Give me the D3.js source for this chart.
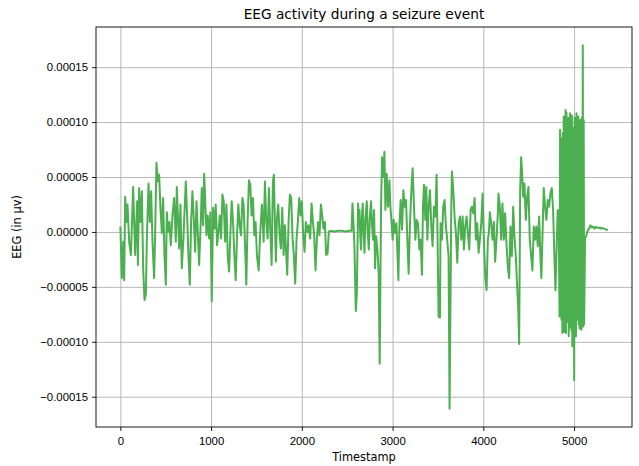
<!DOCTYPE html>
<html>
<head>
    <meta charset="utf-8">
    <title>EEG activity during a seizure event</title>
    <script type="text/javascript" src="https://d3js.org/d3.v7.min.js"></script>

    <style>
        body {
            margin: 0;
            background: #fff;
        }

        svg {
            display: block;
            font-family: "DejaVu Sans", sans-serif;
        }

        .grid line {
            stroke: #b0b0b0;
            stroke-width: 0.9px;
        }

        .grid path {
            display: none;
        }

        .axis path {
            display: none;
        }

        .axis line {
            stroke: #000;
            stroke-width: 0.9px;
        }

        .axis text {
            font-size: 11.4px;
            fill: #000;
        }

        .eeg {
            fill: none;
            stroke: #4caf50;
            stroke-width: 2px;
            stroke-linejoin: round;
        }
    </style>
</head>

<body>

<script type="text/javascript">
    var SCALE = 1e-5; // values below are in units of 1e-5

    var timestamps = [
        0, 16, 31, 42, 53, 68, 79, 97, 116, 141,
        152, 163, 185, 193, 207, 222, 237, 251, 266, 281,
        292, 310, 325, 339, 354, 372, 383, 398, 413, 427,
        442, 457, 471, 486, 501, 512, 526, 541, 556, 574,
        592, 611, 622, 637, 648, 662, 677, 695, 721, 736,
        750, 765, 780, 794, 809, 824, 839, 853, 868, 886,
        897, 912, 923, 934, 949, 963, 978, 993, 1007, 1022,
        1037, 1051, 1066, 1081, 1095, 1110, 1125, 1139, 1154, 1169,
        1183, 1198, 1213, 1227, 1242, 1256, 1271, 1286, 1300, 1315,
        1330, 1345,
        1358, 1373, 1388, 1402, 1417, 1432, 1446, 1461, 1476, 1490,
        1505, 1524, 1542, 1560, 1579, 1593, 1608, 1623, 1637, 1652,
        1667, 1681, 1692, 1703, 1714, 1725, 1740, 1755, 1769, 1784,
        1799, 1813, 1828, 1839, 1854, 1868, 1883, 1898, 1912, 1927,
        1942, 1956, 1971, 1986, 2000, 2015, 2030, 2044, 2059, 2074,
        2092, 2107, 2122, 2136, 2151, 2166, 2180, 2195, 2210, 2224,
        2239, 2254, 2268, 2283, 2298,
        2320, 2360, 2400, 2440, 2480, 2520, 2548,
        2558, 2569, 2580, 2595, 2606, 2620, 2628, 2635, 2644, 2653,
        2662, 2671, 2680, 2690, 2700, 2708, 2716, 2726, 2738, 2750,
        2763, 2774, 2785, 2796, 2807, 2818, 2833, 2847, 2858, 2873,
        2884, 2899, 2910, 2921, 2935, 2950, 2965, 2976, 2987,
        3001, 3012, 3027, 3042, 3053, 3064, 3075, 3089, 3104, 3119,
        3133, 3148, 3163, 3177, 3192, 3207, 3221, 3236, 3251, 3265,
        3280, 3295, 3309, 3324, 3335, 3346, 3361, 3372, 3383, 3397,
        3412, 3427, 3441, 3456, 3471, 3485, 3496, 3507, 3522, 3529,
        3544, 3558, 3573, 3588, 3602, 3617, 3628, 3647, 3654, 3669,
        3683, 3698, 3713, 3728, 3742, 3757, 3772, 3786, 3801, 3816,
        3830, 3845, 3860, 3874, 3889, 3904, 3918, 3933, 3948, 3962,
        3977, 3992, 4006, 4021, 4036, 4050,
        4061, 4072, 4087, 4101, 4116, 4130, 4145, 4160, 4167, 4182,
        4197, 4211, 4226, 4240, 4255, 4270, 4285, 4299, 4314, 4329,
        4343, 4358, 4373, 4384, 4395, 4406, 4417, 4428, 4439, 4453,
        4468, 4483, 4497, 4512, 4527, 4541, 4556, 4571, 4585, 4600,
        4615, 4629, 4640, 4651, 4666, 4681, 4695, 4710, 4725, 4739,
        4754, 4769, 4784, 4795, 4806, 4820, 4831, 4840,
        4846, 4851, 4856, 4861, 4866, 4871, 4876, 4881, 4886, 4891,
        4896, 4901, 4906, 4911, 4916, 4921, 4926, 4931, 4936, 4941,
        4946, 4951, 4956, 4961, 4966, 4971, 4976, 4981, 4986, 4991,
        4996, 5001, 5006, 5011, 5016, 5021, 5026, 5031, 5036, 5041,
        5046, 5051, 5056, 5061, 5066, 5071, 5076, 5081, 5086, 5091,
        5096, 5101, 5106, 5111,
        5121, 5135, 5150, 5165, 5180, 5195, 5210, 5225, 5240, 5255,
        5270, 5285, 5300, 5315, 5330, 5345, 5358, 5370
    ];

    var eegValues = [
        0.5, -4.2, -0.9, -4.4, 3.2, 0.9, 2.5, -0.9, -2.1, 4.1,
        0.9, -2.1, 2.8, -3.0, 4.0, 0.9, 3.7, -3.3, -6.2, -5.7,
        -0.6, 4.4, 0.9, 3.7, -0.9, -4.2, -0.3, 6.3, 4.6, 5.2,
        2.2, -0.1, 3.1, -2.1, -4.8, 1.8, 0, 0.9, -1.2, 1.5,
        3.1, -0.9, 4.1, 0.9, -1.5, 2.5, -3.3, -0.6, 4.6, 1.5,
        -2.1, -4.8, 0.9, 3.7, 1.2, -1.8, 2.8, 0, -3.0, 0.9,
        4.0, 0.6, 5.3, 3.1, -0.3, 1.5, -0.6, 1.8, -6.3, 2.2,
        0.3, 2.5, -1.2, 0, 1.5, -0.6, 3.4, 2.8, -0.9, 2.5,
        -2.1, -3.6, 0, 2.8, 0.9, -2.1, -4.4, -0.3, 2.5, 0.6,
        -0.3, 3.1,
        2.5, -0.9, -4.8, 0.9, 4.7, 4.3, 1.5, 3.1, -0.3, 0.9,
        -2.1, -3.5, 0, 2.5, -0.9, 4.6, 0.9, -0.6, 4.0, 0.3,
        -3.0, 4.6, 5.2, 0.9, -2.7, 1.2, 2.5, -0.3, -1.5, 2.2,
        -2.1, 0.6, -2.1, -3.9, 0.9, 3.4, 3.1, -0.6, -2.1, -4.7,
        -0.6, 0.9, 3.1, 1.5, 2.8, -0.3, -1.8, 0.9, 0, 0.6,
        -0.6, 2.6, 0.9, -0.3, -3.5, -0.6, 0.9, -0.3, 2.5, 1.5,
        0.3, 0.9, -2.1, -2.0, 0.05,
        0.1, 0.05, 0.1, 0.1, 0.05, 0.1, 0.1,
        2.6, 0.8, -1.5, -7.2, -5.6, 2.6, 0.5, 2.0, -0.5, -1.6,
        1.5, 2.6, 0.2, -1.9, 1.0, 2.0, 2.8, 0.0, -1.6, 1.5,
        2.8, 0.5, -0.7, 2.0, -3.3, -0.4, -1.6, -3.8, -12.0, 2.3,
        6.8, 5.0, 7.3, 2.0, 5.3, 2.3, 4.7, 2.3, 1.1,
        -0.7, 1.1, -0.1, 0.8, -1.9, -4.4, 0.5, 2.9, 0.2, 3.8,
        2.3, 2.9, -0.7, -3.8, 0.8, 3.8, 5.8, 2.3, -0.7, 1.1,
        0.8, -1.6, -0.7, -3.9, 2.3, 4.3, 1.1, 4.1, -0.7, 2.3,
        3.8, 0.5, -1.3, 2.3, 1.4, 5.2, -0.7, -7.7, -7.8, 0.8,
        -0.7, 2.3, 2.9, 0.5, -0.7, -2.2, -16.1, 2.3, 5.5, 3.8,
        1.4, -0.1, -2.8, 0.8, 1.4, -0.7, 1.4, -1.6, 0.5, 1.4,
        -0.1, -1.6, 2.0, 2.3, 1.7, 3.1, -0.7, 0.8, -1.9, -0.7,
        0.8, 3.5, -0.7, -4.1, -5.3, -0.7,
        -0.1, 1.8, 0.8, -0.7, 0.9, -2.7, -0.7, 1.7, 3.5, 2.3,
        -0.7, 2.6, -0.7, 1.7, -1.0, -3.2, -4.2, 0.5, -2.2, 2.3,
        -0.4, -2.2, -5.0, -6.8, -10.2, 3.8, 6.8, 5.3, 3.2, 4.4,
        1.1, 3.2, 4.1, -0.7, -2.2, -3.5, 0.5, -0.7, 0.5, -1.3,
        1.4, -2.2, -4.2, -0.7, 4.0, 2.3, 1.1, 2.9, 2.3, 3.5,
        4.0, 2.0, -2.5, -5.3, -1.9, 2.0, 0.8, -7.7,
        9.3, -5.3, 8.5, -8.0, 6.0, -9.2, 9.0, -8.6, 10.5, -9.1,
        7.0, -6.5, 11.1, -9.2, 10.9, -7.5, 8.5, -8.2, 10.4, -9.5,
        9.0, -8.7, 10.8, -6.0, 8.0, -9.0, 10.6, -10.4, 9.5, -8.0,
        7.0, -13.5, 10.4, -9.0, 9.0, -9.5, 10.8, -8.0, 9.5, -7.8,
        10.5, -8.4, 9.0, -8.8, 10.2, -8.6, 9.5, -8.9, 10.4, -8.5,
        17.0, -8.6, 10.2, -8.4,
        -0.6, -0.3, 0.1, 0.3, 0.6, 0.4, 0.5, 0.3, 0.45, 0.4,
        0.35, 0.4, 0.3, 0.35, 0.3, 0.25, 0.2, 0.15
    ];

    var xTicks = [0, 1000, 2000, 3000, 4000, 5000];
    var yTicks = [-0.00015, -0.0001, -0.00005, 0, 0.00005, 0.0001, 0.00015];
    var yTickLabels = ["\u22120.00015", "\u22120.00010", "\u22120.00005", "0.00000", "0.00005", "0.00010", "0.00015"];

    var width = 639,
            height = 466;
    var margin = {top: 27, right: 7, bottom: 39, left: 96};
    var innerW = width - margin.left - margin.right,
            innerH = height - margin.top - margin.bottom;

    var n = Math.min(timestamps.length, eegValues.length);
    var data = d3.range(n).map(function (i) {
        return {t: timestamps[i], v: eegValues[i] * SCALE};
    });

    // matplotlib-style 5% margins around the data
    var tExt = d3.extent(data, function (d) { return d.t; }),
            vExt = d3.extent(data, function (d) { return d.v; });
    var tPad = (tExt[1] - tExt[0]) * 0.05,
            vPad = (vExt[1] - vExt[0]) * 0.05;

    var x = d3.scaleLinear()
            .domain([tExt[0] - tPad, tExt[1] + tPad])
            .range([0, innerW]);
    var y = d3.scaleLinear()
            .domain([vExt[0] - vPad, vExt[1] + vPad])
            .range([innerH, 0]);

    var svg = d3.select("body").append("svg")
            .attr("width", width)
            .attr("height", height);

    var g = svg.append("g")
            .attr("transform", "translate(" + margin.left + "," + margin.top + ")");

    g.append("g")
            .attr("class", "grid")
            .attr("transform", "translate(0," + innerH + ")")
            .call(d3.axisBottom(x).tickValues(xTicks).tickSize(-innerH).tickFormat(""));

    g.append("g")
            .attr("class", "grid")
            .call(d3.axisLeft(y).tickValues(yTicks).tickSize(-innerW).tickFormat(""));

    g.append("path")
            .datum(data)
            .attr("class", "eeg")
            .attr("d", d3.line()
                    .x(function (d) { return x(d.t); })
                    .y(function (d) { return y(d.v); }));

    g.append("rect")
            .attr("width", innerW)
            .attr("height", innerH)
            .attr("fill", "none")
            .attr("stroke", "#000")
            .attr("stroke-width", 0.9);

    g.append("g")
            .attr("class", "axis")
            .attr("transform", "translate(0," + innerH + ")")
            .call(d3.axisBottom(x)
                    .tickValues(xTicks)
                    .tickSize(4)
                    .tickSizeOuter(0)
                    .tickPadding(5.5)
                    .tickFormat(d3.format("d")));

    g.append("g")
            .attr("class", "axis")
            .call(d3.axisLeft(y)
                    .tickValues(yTicks)
                    .tickSize(4)
                    .tickSizeOuter(0)
                    .tickPadding(4)
                    .tickFormat(function (d, i) { return yTickLabels[i]; }));

    svg.append("text")
            .attr("x", margin.left + innerW / 2)
            .attr("y", 19)
            .attr("text-anchor", "middle")
            .style("font-size", "13.7px")
            .text("EEG activity during a seizure event");

    svg.append("text")
            .attr("x", margin.left + innerW / 2)
            .attr("y", 461)
            .attr("text-anchor", "middle")
            .style("font-size", "11.4px")
            .text("Timestamp");

    svg.append("text")
            .attr("transform", "translate(21," + (margin.top + innerH / 2) + ")rotate(-90)")
            .attr("text-anchor", "middle")
            .style("font-size", "11.4px")
            .text("EEG (in \u00b5v)");
</script>

</body>

</html>
